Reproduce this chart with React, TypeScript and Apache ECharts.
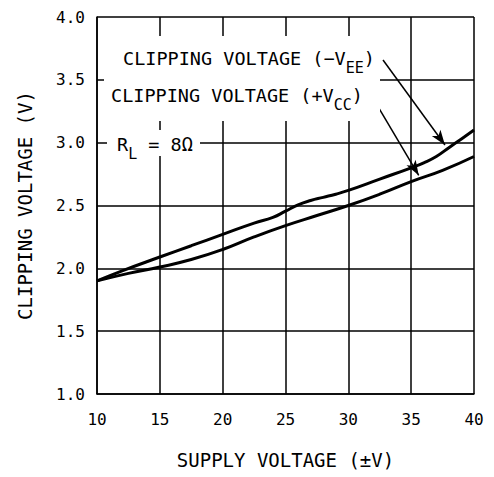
import React, { useEffect, useRef } from "react";
import * as echarts from "echarts";

const FONT = "DejaVu Sans Mono";

const xTicks = { min: 10, max: 40, interval: 5 };
const yTicks = { min: 1, max: 4, interval: 0.5 };

// Clipping voltage (−VEE) — upper curve
const veeX = [10, 12, 15, 17.5, 20, 22.5, 24, 25, 26, 27, 28, 29, 30, 32.5, 35, 36, 37, 38, 39, 40];
const veeY = [1.9, 1.98, 2.09, 2.18, 2.27, 2.36, 2.405, 2.455, 2.505, 2.54, 2.565, 2.59, 2.62, 2.71, 2.8, 2.84, 2.89, 2.96, 3.03, 3.1];

// Clipping voltage (+VCC) — lower curve
const vccX = [10, 12.5, 15, 17.5, 20, 22.5, 25, 27.5, 30, 32.5, 35, 37.5, 40];
const vccY = [1.9, 1.96, 2.01, 2.07, 2.15, 2.25, 2.34, 2.42, 2.5, 2.59, 2.69, 2.78, 2.89];

// annotation arrows in data coordinates [start, end]
const arrowVee = [[32.76, 3.658], [37.69, 2.981]];
const arrowVcc = [[31.96, 3.355], [35.6, 2.74]];

const zip = (xs: number[], ys: number[]) => xs.map((x, i) => [x, ys[i]]);

export default function App() {
  const ref = useRef<HTMLDivElement>(null);
  useEffect(() => {
    if (!ref.current) return;
    const chart = echarts.init(ref.current, null, { renderer: "svg" });
    const arrowLine = (a: number[][]) => [{ coord: a[0] }, { coord: a[1] }];
    chart.setOption({
      animation: false,
      backgroundColor: "#fff",
      grid: { left: 97, right: 20, top: 17, bottom: 83, containLabel: false },
      xAxis: {
        type: "value",
        min: xTicks.min,
        max: xTicks.max,
        interval: xTicks.interval,
        name: "SUPPLY VOLTAGE (±V)",
        nameLocation: "middle",
        nameGap: 56,
        nameTextStyle: { fontFamily: FONT, fontSize: 19, color: "#000" },
        axisLine: { show: true, lineStyle: { color: "#000", width: 1.5 } },
        axisTick: { show: false },
        axisLabel: { fontFamily: FONT, fontSize: 16, color: "#000", margin: 17 },
        splitLine: { show: true, lineStyle: { color: "#000", width: 1.5 } },
      },
      yAxis: {
        type: "value",
        min: yTicks.min,
        max: yTicks.max,
        interval: yTicks.interval,
        name: "CLIPPING VOLTAGE (V)",
        nameLocation: "middle",
        nameGap: 63,
        nameTextStyle: { fontFamily: FONT, fontSize: 19, color: "#000" },
        axisLine: { show: true, lineStyle: { color: "#000", width: 1.5 } },
        axisTick: { show: false },
        axisLabel: {
          fontFamily: FONT,
          fontSize: 16,
          color: "#000",
          margin: 12,
          formatter: (v: number) => v.toFixed(1),
        },
        splitLine: { show: true, lineStyle: { color: "#000", width: 1.5 } },
      },
      series: [
        {
          type: "line",
          data: zip(veeX, veeY),
          smooth: 0.5,
          showSymbol: false,
          lineStyle: { color: "#000", width: 3 },
          markLine: {
            silent: true,
            symbol: ["none", "arrow"],
            symbolSize: [8, 15],
            label: { show: false },
            lineStyle: { color: "#000", width: 1.5, type: "solid" },
            data: [arrowLine(arrowVee), arrowLine(arrowVcc)],
          },
        },
        {
          type: "line",
          data: zip(vccX, vccY),
          smooth: 0.5,
          showSymbol: false,
          lineStyle: { color: "#000", width: 3 },
        },
      ],
      graphic: [
        { type: "rect", z: 100, shape: { x: 104, y: 36, width: 276, height: 85 }, style: { fill: "#fff" } },
        { type: "rect", z: 100, shape: { x: 107, y: 130, width: 93, height: 26 }, style: { fill: "#fff" } },
        {
          type: "text",
          z: 101,
          x: 123,
          y: 58,
          style: {
            text: "{a|CLIPPING VOLTAGE (−V}{s|EE}{a|)}",
            textVerticalAlign: "middle",
            textAlign: "left",
            fill: "#000",
            rich: {
              a: { fontFamily: FONT, fontSize: 18.5, fill: "#000" },
              s: { fontFamily: FONT, fontSize: 15, fill: "#000", padding: [20, 0, 0, 0] },
            },
          },
        },
        {
          type: "text",
          z: 101,
          x: 111,
          y: 95,
          style: {
            text: "{a|CLIPPING VOLTAGE (+V}{s|CC}{a|)}",
            textVerticalAlign: "middle",
            textAlign: "left",
            fill: "#000",
            rich: {
              a: { fontFamily: FONT, fontSize: 18.5, fill: "#000" },
              s: { fontFamily: FONT, fontSize: 15, fill: "#000", padding: [20, 0, 0, 0] },
            },
          },
        },
        {
          type: "text",
          z: 101,
          x: 117,
          y: 144,
          style: {
            text: "{a|R}{s|L}{a| = 8Ω}",
            textVerticalAlign: "middle",
            textAlign: "left",
            fill: "#000",
            rich: {
              a: { fontFamily: FONT, fontSize: 18.5, fill: "#000" },
              s: { fontFamily: FONT, fontSize: 15, fill: "#000", padding: [20, 0, 0, 0] },
            },
          },
        },
      ],
    });
    return () => chart.dispose();
  }, []);
  return (
    <div
      ref={ref}
      style={{ position: "fixed", left: 0, top: 0, width: 494, height: 477 }}
    />
  );
}
